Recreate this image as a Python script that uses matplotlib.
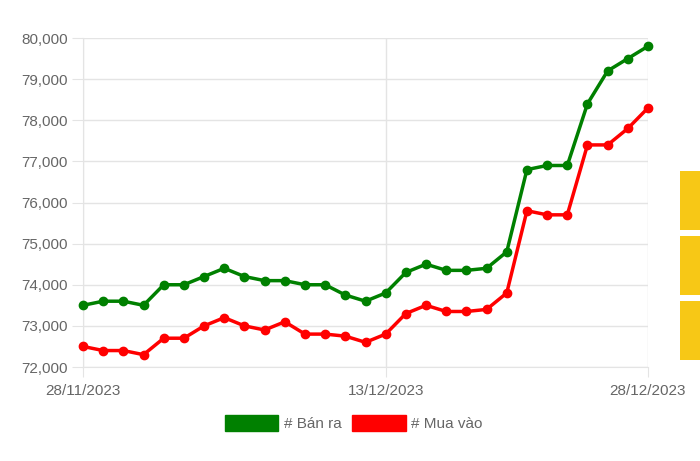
import numpy as np
import matplotlib
matplotlib.use("Agg")
import matplotlib.pyplot as plt
from matplotlib.patches import Patch, Rectangle
from matplotlib.ticker import FuncFormatter, MultipleLocator

plt.rcParams['font.family'] = ['Liberation Sans', 'DejaVu Sans']

# gia vang (nghin dong / luong)
ban_ra = [73500, 73600, 73600, 73500, 74000, 74000, 74200, 74400, 74200, 74100,
          74100, 74000, 74000, 73750, 73600, 73800, 74300, 74500, 74350, 74350,
          74400, 74800, 76800, 76900, 76900, 78400, 79200, 79500, 79800]
mua_vao = [72500, 72400, 72400, 72300, 72700, 72700, 73000, 73200, 73000, 72900,
           73100, 72800, 72800, 72750, 72600, 72800, 73300, 73500, 73350, 73350,
           73400, 73800, 75800, 75700, 75700, 77400, 77400, 77800, 78300]
tick_pos = [0, 15, 28]
tick_labels = ['28/11/2023', '13/12/2023', '28/12/2023']

green = '#008000'
red = '#ff0000'
grey_txt = '#666666'
grid_c = '#e4e4e4'

fig = plt.figure(figsize=(7, 4.61), dpi=100)
ax = fig.add_axes([83/700, 1 - 367/461, 565/700, 329/461])

x = np.arange(len(ban_ra))
ax.plot(x, ban_ra, color=green, lw=2.5, marker='o', ms=6, clip_on=False, zorder=3)
ax.plot(x, mua_vao, color=red, lw=2.5, marker='o', ms=6, clip_on=False, zorder=3)

ax.set_xlim(0, 28)
ax.set_ylim(72000, 80000)
ax.yaxis.set_major_locator(MultipleLocator(1000))
ax.yaxis.set_major_formatter(FuncFormatter(lambda v, p: f'{int(v):,}'))
ax.set_xticks(tick_pos)
ax.set_xticklabels(tick_labels)

ax.grid(True, color=grid_c, lw=1)
ax.set_axisbelow(True)
for s in ['top', 'right']:
    ax.spines[s].set_visible(False)
for s in ['left', 'bottom']:
    ax.spines[s].set_color(grid_c)
ax.tick_params(axis='y', length=8, color=grid_c, labelsize=11, labelcolor=grey_txt, pad=3)
ax.tick_params(axis='x', length=7, color=grid_c, labelsize=11, labelcolor=grey_txt, pad=5)

handles = [Patch(facecolor=green, edgecolor=green, label='# Bán ra'),
           Patch(facecolor=red, edgecolor=red, label='# Mua vào')]
leg = fig.legend(handles=handles, loc='center', bbox_to_anchor=(0.505, 0.082), ncol=2,
                 frameon=False, fontsize=11, handlelength=3.5, handleheight=1.25,
                 handletextpad=0.35, columnspacing=0.7)
for t in leg.get_texts():
    t.set_color(grey_txt)

# yellow boxes at the right edge of the page
for y0, y1 in [(171, 230), (236, 295), (301, 360)]:
    fig.add_artist(Rectangle((680/700, 1 - y1/461), 20/700, (y1 - y0)/461,
                             transform=fig.transFigure, color='#f7c816', lw=0))

fig.savefig('out.png', dpi=100)
